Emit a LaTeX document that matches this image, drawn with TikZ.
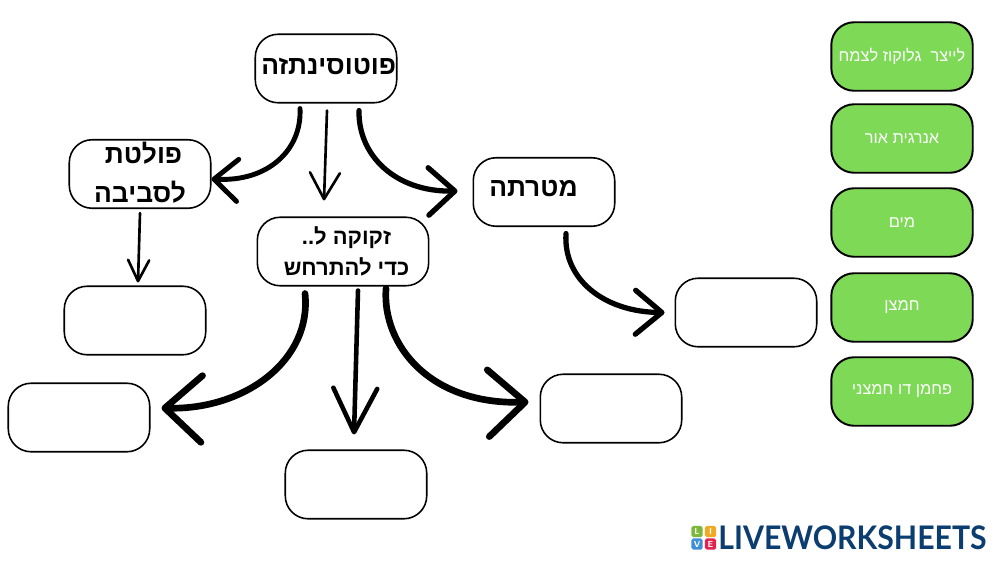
\documentclass[tikz,border=0pt]{standalone}
\usepackage{fontspec}
\usepackage{tikz}
\usetikzlibrary{arrows.meta}
\TeXXeTstate=1
\newfontfamily\hebfont[Script=Hebrew]{Liberation Sans}
\newfontfamily\logofont[FakeStretch=0.93]{Lato}
\definecolor{leaf}{HTML}{7ED957}
\definecolor{logoblue}{HTML}{0B3D70}
\definecolor{tilegreen}{HTML}{7CB93A}
\definecolor{tileorange}{HTML}{F2A922}
\definecolor{tileblue}{HTML}{3F8FD8}
\definecolor{tilered}{HTML}{E0244F}
\tikzset{
  blank/.style={draw,line width=0.9pt,rounded corners=13pt,minimum width=80.5pt,minimum height=39pt,inner sep=0pt,fill=white},
  title/.style={blank,font=\hebfont\bfseries\fontsize{15}{22}\selectfont,align=center},
  choice/.style={blank,line width=1.1pt,fill=leaf,text=white,font=\hebfont\fontsize{9.3}{12}\selectfont},
  thinarrow/.style={line width=1.5pt,line cap=round,-{Straight Barb[round,length=15pt,width=17pt]}},
  midarrow/.style={line width=2.8pt,line cap=round,-{Straight Barb[round,length=13.5pt,width=24pt]}},
  bigarrow/.style={line width=3.8pt,line cap=round,-{Straight Barb[round,length=21pt,width=38pt]}},
  logotile/.style={minimum size=6.4pt,inner sep=0pt,rounded corners=1pt,text=white,font=\sffamily\bfseries\fontsize{5}{5}\selectfont}
}
\begin{document}
\begin{tikzpicture}[x=0.02cm,y=-0.02cm]
  \useasboundingbox (0,0) rectangle (999,562);
  \node[title] (topic) at (326,68.5) {\hspace*{3pt}\raisebox{2pt}{\beginR פוטוסינתזה\endR}};
  \node[title] (release) at (140,174) {\hspace*{4pt}\raisebox{2pt}{\beginR פולטת\endR}\\\raisebox{2pt}{\beginR לסביבה\endR}};
  \node[title,minimum width=97.5pt,font=\hebfont\bfseries\fontsize{12.5}{18}\selectfont] (needs) at (343,251.5) {\hspace*{4pt}\beginR זקוקה ל..\endR\\\hspace*{4pt}\beginR כדי להתרחש\endR};
  \node[title] (goal) at (544,192) {\raisebox{4pt}{\beginR מטרתה\endR}\hspace{12pt}};
  \node[blank] (blankrelease) at (135,320.5) {};
  \node[blank] (blankgoal) at (746,312.5) {};
  \node[blank] (blankleft) at (79,417.5) {};
  \node[blank] (blankbottom) at (356,484.5) {};
  \node[blank] (blankright) at (611,408.5) {};
  \node[choice] (glucose) at (902,56.5) {\beginR לייצר~~גלוקוז לצמח\endR};
  \node[choice] (light) at (902,138.5) {\beginR אנרגית אור\endR};
  \node[choice] (water) at (902,222.5) {\beginR מים\endR};
  \node[choice] (oxygen) at (902,307.5) {\beginR חמצן\endR};
  \node[choice] (carbon) at (902,391.5) {\beginR פחמן דו חמצני\endR};
  \draw[midarrow] ([shift={(-26,5)}]topic.south) .. controls (302,150) and (268,182) .. ([shift={(0,5)}]release.east);
  \draw[thinarrow] ([shift={(1,7)}]topic.south) -- ([shift={(-19,-16)}]needs.north);
  \draw[midarrow,line width=3pt,-{Straight Barb[round,length=15pt,width=27pt]}] ([shift={(33,7)}]topic.south) .. controls (358,155) and (395,192) .. ([shift={(-15,-1)}]goal.west);
  \draw[midarrow,line width=3pt,-{Straight Barb[round,length=15pt,width=25pt]}] ([shift={(22,6.5)}]goal.south) .. controls (563,280) and (605,312) .. ([shift={(-10,0)}]blankgoal.west);
  \draw[thinarrow,-{Straight Barb[round,length=12pt,width=12pt]}] ([shift={(0,4)}]release.south) -- ([shift={(3,-3)}]blankrelease.north);
  \draw[bigarrow] ([shift={(-38,7)}]needs.south) .. controls (312,360) and (245,410) .. ([shift={(11,-9.5)}]blankleft.east);
  \draw[bigarrow,line width=2.6pt,-{Straight Barb[round,length=25pt,width=25pt]}] ([shift={(15,4)}]needs.south) -- ([shift={(-2,-15)}]blankbottom.north);
  \draw[bigarrow] ([shift={(43,2)}]needs.south) .. controls (382,345) and (430,405) .. ([shift={(-11,-6.5)}]blankright.west);
  \node[logotile,fill=tilegreen] (tileL) at (697,531.5) {L};
  \node[logotile,fill=tileorange] (tileI) at (710.5,531.5) {I};
  \node[logotile,fill=tileblue] (tileV) at (697,544) {V};
  \node[logotile,fill=tilered] (tileE) at (710.5,544) {E};
  \node[anchor=west,inner sep=0pt,text=logoblue,font=\logofont\bfseries\fontsize{18.5}{18.5}\selectfont] (logo) at (718,537.5) {LIVEWORKSHEETS};
\end{tikzpicture}
\end{document}
